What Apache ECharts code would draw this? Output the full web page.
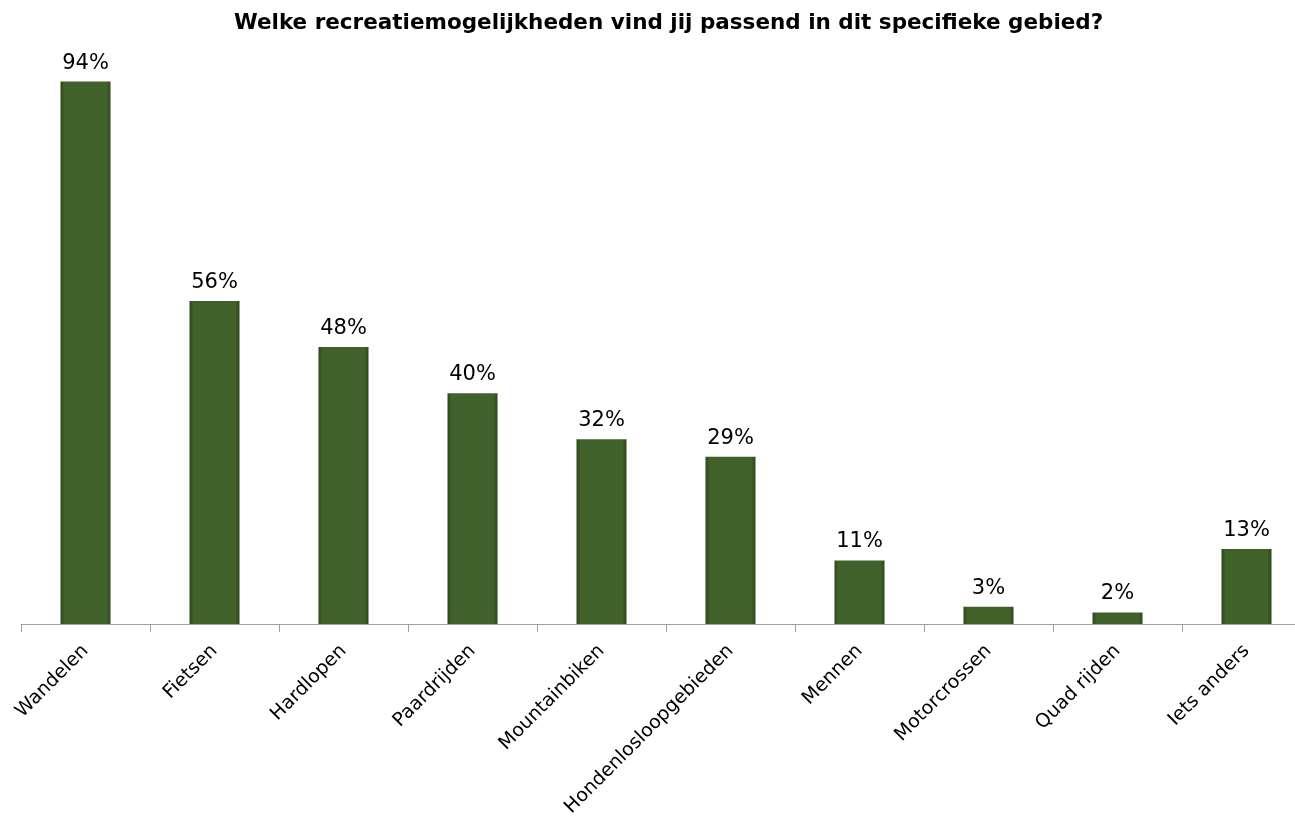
<!DOCTYPE html>
<html><head><meta charset="utf-8">
<script src="https://cdn.jsdelivr.net/npm/echarts@6/dist/echarts.min.js"></script>
<style>html,body{margin:0;padding:0;background:#fff}#c{width:1295px;height:817px}</style>
</head><body><div id="c"></div>
<script>
const titleText = 'Welke recreatiemogelijkheden vind jij passend in dit specifieke gebied?';
const categories = ['Wandelen','Fietsen','Hardlopen','Paardrijden','Mountainbiken','Hondenlosloopgebieden','Mennen','Motorcrossen','Quad rijden','Iets anders'];
const values = [94,56,48,40,32,29,11,3,2,13];

const chart = echarts.init(document.getElementById('c'));
chart.setOption({
  animation: false,
  title: {text: titleText, left: 229, top: 7,
    textStyle: {fontFamily: 'DejaVu Sans', fontWeight: 'bold', fontSize: 21.5, color: '#000'}},
  grid: {left: 21, top: 47, right: -16, bottom: 193, containLabel: false, outerBoundsMode: 'none'},
  xAxis: {type: 'category', data: categories,
    axisLine: {lineStyle: {color: '#a0a0a0', width: 1}},
    axisTick: {show: true, length: 8, lineStyle: {color: '#a0a0a0'}},
    axisLabel: {rotate: 45, fontFamily: 'DejaVu Sans', fontSize: 19, color: '#000', margin: 24, interval: 0}},
  yAxis: {type: 'value', min: 0, max: 100, show: false, splitLine: {show: false}},
  series: [{type: 'bar', data: values, barWidth: 50,
    itemStyle: {color: new echarts.graphic.LinearGradient(0,0,1,0,[
      {offset: 0, color: '#2c4619'}, {offset: 0.08, color: '#41612a'},
      {offset: 0.92, color: '#41612a'}, {offset: 1, color: '#2c4619'}])},
    label: {show: true, position: 'top', distance: 8, formatter: '{c}%',
      fontFamily: 'DejaVu Sans', fontSize: 21, color: '#000'}}]
});
</script></body></html>
